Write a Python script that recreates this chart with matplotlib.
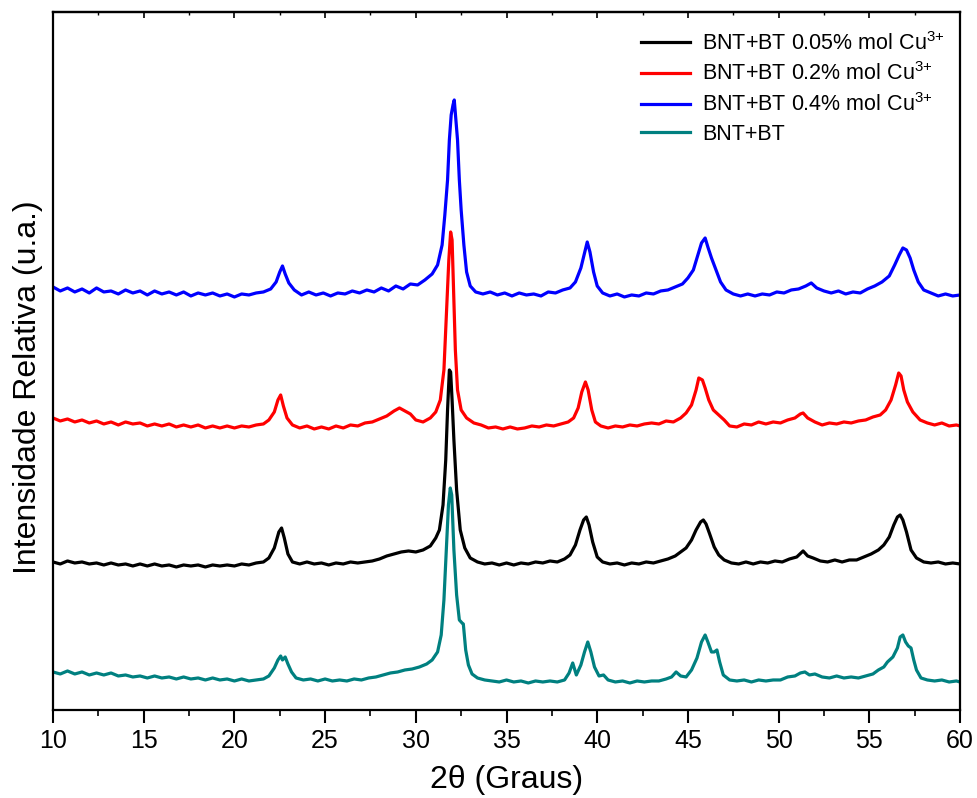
import numpy as np
import matplotlib
matplotlib.use("Agg")
import matplotlib.pyplot as plt
from matplotlib.ticker import MultipleLocator

plt.rcParams['font.family'] = ['Liberation Sans', 'DejaVu Sans']
plt.rcParams['mathtext.fontset'] = 'custom'
plt.rcParams['mathtext.rm'] = 'Liberation Sans'
plt.rcParams['mathtext.default'] = 'regular'

# XRD patterns, already stacked (u.a.)
tt_cu005 = [10.0, 10.4, 10.8, 11.2, 11.6, 12.0, 12.4, 12.8, 13.2, 13.6, 14.0, 14.4, 14.8, 15.2, 15.6, 16.0, 16.4, 16.8,
            17.2, 17.6, 18.0, 18.4, 18.8, 19.2, 19.6, 20.0, 20.4, 20.8, 21.2, 21.6, 21.9, 22.2, 22.45, 22.6, 22.75, 22.95,
            23.2, 23.6, 24.0, 24.4, 24.8, 25.2, 25.6, 26.0, 26.4, 26.8, 27.2, 27.6, 28.0, 28.4, 28.8, 29.2, 29.6, 30.0,
            30.4, 30.8, 31.1, 31.3, 31.5, 31.65, 31.75, 31.85, 31.92, 32.0, 32.1, 32.25, 32.45, 32.7, 33.0, 33.4, 33.8,
            34.2, 34.6, 35.0, 35.4, 35.8, 36.2, 36.6, 37.0, 37.4, 37.8, 38.2, 38.5, 38.8, 39.05, 39.25, 39.4, 39.55,
            39.75, 40.0, 40.3, 40.7, 41.1, 41.5, 41.9, 42.3, 42.7, 43.1, 43.5, 43.9, 44.3, 44.6, 44.9, 45.2, 45.45, 45.7,
            45.85, 46.0, 46.2, 46.45, 46.7, 47.0, 47.4, 47.8, 48.2, 48.6, 49.0, 49.4, 49.8, 50.2, 50.6, 51.0, 51.35,
            51.6, 51.9, 52.3, 52.7, 53.1, 53.5, 53.9, 54.3, 54.7, 55.1, 55.5, 55.8, 56.1, 56.35, 56.55, 56.7, 56.85,
            57.05, 57.3, 57.6, 58.0, 58.4, 58.8, 59.2, 59.6, 60.0]
I_cu005 = [148, 146, 149, 147, 148, 146, 147, 145, 147, 145, 146, 144, 146, 144, 146, 144, 145, 143,
           145, 144, 145, 143, 145, 144, 145, 144, 146, 145, 147, 148, 152, 162, 178, 182, 172, 156,
           148, 146, 148, 146, 147, 145, 147, 146, 148, 147, 148, 149, 151, 154, 156, 158, 159, 158,
           160, 164, 172, 180, 205, 250, 300, 340, 338, 310, 270, 220, 180, 162, 152, 148, 146,
           147, 145, 147, 145, 147, 146, 148, 147, 149, 148, 151, 155, 165, 180, 190, 193, 185,
           168, 153, 148, 146, 147, 145, 147, 146, 148, 147, 149, 151, 154, 158, 162, 170, 180, 188,
           190, 186, 176, 163, 155, 150, 147, 146, 148, 146, 148, 147, 149, 148, 151, 153, 159,
           154, 152, 149, 148, 150, 148, 150, 150, 153, 156, 160, 165, 173, 185, 193, 195, 190,
           178, 160, 152, 148, 147, 148, 146, 147, 146]

tt_cu02 = [10.0, 10.4, 10.8, 11.2, 11.6, 12.0, 12.4, 12.8, 13.2, 13.6, 14.0, 14.4, 14.8, 15.2, 15.6, 16.0, 16.4, 16.8,
           17.2, 17.6, 18.0, 18.4, 18.8, 19.2, 19.6, 20.0, 20.4, 20.8, 21.2, 21.6, 21.9, 22.2, 22.4, 22.55, 22.7, 22.9,
           23.2, 23.6, 24.0, 24.4, 24.8, 25.2, 25.6, 26.0, 26.4, 26.8, 27.2, 27.6, 28.0, 28.4, 28.8, 29.1, 29.4, 29.7,
           30.0, 30.4, 30.8, 31.1, 31.35, 31.55, 31.7, 31.82, 31.92, 32.0, 32.08, 32.18, 32.3, 32.5, 32.8, 33.2, 33.6,
           34.0, 34.4, 34.8, 35.2, 35.6, 36.0, 36.4, 36.8, 37.2, 37.6, 38.0, 38.4, 38.7, 38.95, 39.15, 39.35, 39.5,
           39.7, 39.9, 40.2, 40.6, 41.0, 41.4, 41.8, 42.2, 42.6, 43.0, 43.4, 43.8, 44.2, 44.6, 44.9, 45.2, 45.45, 45.6,
           45.8, 45.95, 46.15, 46.4, 46.7, 47.0, 47.3, 47.7, 48.1, 48.5, 48.9, 49.3, 49.7, 50.1, 50.5, 50.9, 51.2,
           51.35, 51.6, 52.0, 52.4, 52.8, 53.2, 53.6, 54.0, 54.4, 54.8, 55.2, 55.6, 55.9, 56.2, 56.45, 56.62, 56.75,
           56.9, 57.1, 57.4, 57.8, 58.2, 58.6, 59.0, 59.4, 59.8, 60.0]
I_cu02 = [292, 289, 291, 288, 290, 287, 289, 286, 288, 285, 288, 286, 287, 284, 286, 284, 286, 283,
          285, 283, 285, 282, 284, 282, 284, 282, 284, 283, 285, 286, 290, 298, 310, 315, 304, 292,
          285, 282, 284, 281, 283, 281, 284, 282, 285, 284, 287, 288, 291, 294, 299, 302, 299, 296,
          290, 288, 292, 298, 310, 340, 400, 450, 478, 470, 420, 360, 320, 300, 292, 287, 285,
          282, 283, 281, 283, 281, 282, 284, 283, 285, 284, 286, 288, 292, 302, 318, 328, 320,
          300, 288, 284, 282, 284, 283, 285, 284, 286, 287, 286, 289, 288, 292, 297, 305, 320, 332,
          330, 322, 310, 300, 295, 290, 284, 283, 286, 285, 288, 286, 288, 287, 290, 292, 296,
          297, 292, 288, 285, 287, 286, 288, 287, 289, 290, 293, 295, 300, 310, 325, 337, 334,
          320, 308, 298, 290, 287, 285, 287, 284, 285, 284]

tt_cu04 = [10.0, 10.4, 10.8, 11.2, 11.6, 12.0, 12.4, 12.8, 13.2, 13.6, 14.0, 14.4, 14.8, 15.2, 15.6, 16.0, 16.4, 16.8,
           17.2, 17.6, 18.0, 18.4, 18.8, 19.2, 19.6, 20.0, 20.4, 20.8, 21.2, 21.6, 22.0, 22.3, 22.5, 22.65, 22.8, 23.0,
           23.3, 23.7, 24.1, 24.5, 24.9, 25.3, 25.7, 26.1, 26.5, 26.9, 27.3, 27.7, 28.1, 28.5, 28.9, 29.3, 29.7, 30.1,
           30.5, 30.9, 31.2, 31.45, 31.6, 31.75, 31.85, 31.95, 32.05, 32.12, 32.2, 32.3, 32.4, 32.5, 32.65, 32.8, 33.0,
           33.3, 33.7, 34.1, 34.5, 34.9, 35.3, 35.7, 36.1, 36.5, 36.9, 37.3, 37.7, 38.1, 38.5, 38.8, 39.1, 39.3, 39.45,
           39.6, 39.8, 40.0, 40.3, 40.7, 41.1, 41.5, 41.9, 42.3, 42.7, 43.1, 43.5, 43.9, 44.3, 44.7, 45.0, 45.3, 45.55,
           45.75, 45.95, 46.1, 46.3, 46.55, 46.8, 47.1, 47.5, 47.9, 48.3, 48.7, 49.1, 49.5, 49.9, 50.3, 50.7, 51.1,
           51.5, 51.8, 52.1, 52.5, 52.9, 53.3, 53.7, 54.1, 54.5, 54.9, 55.3, 55.7, 56.1, 56.4, 56.65, 56.85, 57.05,
           57.25, 57.45, 57.7, 58.0, 58.4, 58.8, 59.2, 59.6, 60.0]
I_cu04 = [423, 419, 422, 418, 421, 417, 422, 418, 419, 416, 420, 417, 419, 415, 419, 416, 418, 415,
          418, 414, 417, 415, 417, 414, 416, 413, 416, 415, 417, 418, 421, 428, 438, 444, 436, 427,
          420, 415, 418, 415, 417, 414, 417, 416, 419, 417, 420, 418, 422, 419, 424, 421, 426, 425,
          430, 436, 445, 465, 495, 530, 570, 595, 605, 610, 592, 570, 530, 500, 465, 438, 424,
          418, 416, 418, 415, 417, 414, 417, 415, 416, 414, 418, 417, 420, 422, 428, 442, 457, 468,
          458, 438, 424, 417, 414, 416, 413, 415, 414, 417, 416, 419, 420, 423, 426, 432, 440, 455,
          467, 472, 463, 452, 440, 428, 420, 416, 414, 416, 414, 416, 415, 418, 417, 420, 421,
          424, 427, 422, 419, 417, 419, 416, 418, 417, 421, 424, 428, 434, 445, 455, 462, 460,
          452, 440, 428, 420, 417, 414, 416, 414, 415]

tt_pure = [10.0, 10.4, 10.8, 11.2, 11.6, 12.0, 12.4, 12.8, 13.2, 13.6, 14.0, 14.4, 14.8, 15.2, 15.6, 16.0, 16.4, 16.8,
           17.2, 17.6, 18.0, 18.4, 18.8, 19.2, 19.6, 20.0, 20.4, 20.8, 21.2, 21.6, 21.9, 22.2, 22.4, 22.55, 22.65, 22.8,
           22.95, 23.15, 23.4, 23.8, 24.2, 24.6, 25.0, 25.4, 25.8, 26.2, 26.6, 27.0, 27.4, 27.8, 28.2, 28.6, 29.0, 29.4,
           29.8, 30.2, 30.6, 30.9, 31.2, 31.4, 31.55, 31.68, 31.8, 31.9, 31.98, 32.1, 32.25, 32.4, 32.55, 32.62, 32.75,
           32.9, 33.1, 33.4, 33.8, 34.2, 34.6, 35.0, 35.4, 35.8, 36.2, 36.6, 37.0, 37.4, 37.8, 38.2, 38.45, 38.65,
           38.85, 39.1, 39.3, 39.48, 39.65, 39.85, 40.1, 40.35, 40.6, 41.0, 41.4, 41.8, 42.2, 42.6, 43.0, 43.4, 43.8,
           44.1, 44.35, 44.6, 44.9, 45.2, 45.5, 45.75, 45.95, 46.1, 46.3, 46.45, 46.6, 46.75, 46.95, 47.3, 47.7, 48.1,
           48.5, 48.9, 49.3, 49.7, 50.1, 50.5, 50.9, 51.2, 51.45, 51.7, 52.0, 52.4, 52.8, 53.2, 53.6, 54.0, 54.4, 54.8,
           55.2, 55.5, 55.8, 56.0, 56.3, 56.55, 56.7, 56.85, 57.0, 57.15, 57.3, 57.45, 57.6, 57.85, 58.2, 58.6, 59.0,
           59.4, 59.8, 60.0]
I_pure = [38, 36, 39, 36, 38, 35, 37, 35, 37, 34, 35, 33, 34, 32, 34, 32, 33, 31,
          33, 31, 32, 30, 32, 30, 31, 29, 31, 29, 30, 31, 34, 42, 50, 54, 50, 53,
          46, 38, 32, 30, 31, 29, 31, 29, 30, 29, 31, 30, 32, 33, 35, 37, 38, 40,
          41, 43, 46, 50, 58, 75, 110, 160, 205, 222, 215, 160, 115, 90, 87, 86, 60,
          45, 36, 32, 30, 29, 28, 30, 28, 29, 27, 29, 28, 29, 28, 30, 37, 47,
          35, 45, 58, 68, 58, 43, 34, 35, 30, 28, 29, 27, 29, 28, 29, 29, 31,
          33, 38, 34, 33, 40, 52, 68, 75, 68, 58, 58, 60, 48, 35, 30, 29, 30,
          28, 30, 29, 30, 30, 33, 34, 37, 38, 35, 36, 33, 32, 34, 32, 33, 32, 34,
          36, 40, 43, 48, 53, 62, 73, 75, 68, 64, 62, 50, 40, 32, 30, 29, 30,
          28, 29, 28]

labels = ['BNT+BT 0.05% mol Cu$^{3{+}}$', 'BNT+BT 0.2% mol Cu$^{3{+}}$',
          'BNT+BT 0.4% mol Cu$^{3{+}}$', 'BNT+BT']
colors = ['black', '#ff0000', '#0000ff', '#008080']

fig = plt.figure(figsize=(9.78, 7.98), dpi=100)
ax = fig.add_axes([0.0542, 0.1103, 0.9274, 0.8747])

series = [(tt_cu005, I_cu005), (tt_cu02, I_cu02), (tt_cu04, I_cu04), (tt_pure, I_pure)]
for (tt, I), lab, c in zip(series, labels, colors):
    ax.plot(tt, I, color=c, lw=2.3, label=lab)

ax.set_xlim(10, 60)
ax.set_ylim(0, 698)
ax.xaxis.set_major_locator(MultipleLocator(5))
ax.xaxis.set_minor_locator(MultipleLocator(2.5))
ax.set_yticks([])
ax.tick_params(axis='x', which='major', direction='out', length=9, width=1.5,
               labelsize=18, pad=5)
ax.tick_params(axis='x', which='minor', direction='out', length=4, width=1.2)
for s in ax.spines.values():
    s.set_linewidth(1.6)

# small inward ticks along the top edge
top = ax.secondary_xaxis('top')
top.xaxis.set_major_locator(MultipleLocator(5))
top.xaxis.set_minor_locator(MultipleLocator(2.5))
top.tick_params(which='major', direction='in', length=4, width=1.2, labeltop=False)
top.tick_params(which='minor', direction='in', length=2.5, width=1.0)
top.spines['top'].set_linewidth(1.6)

ax.set_xlabel('2θ (Graus)', fontsize=23, labelpad=8)
ax.set_ylabel('Intensidade Relativa (u.a.)', fontsize=23)
ax.yaxis.set_label_coords(-0.011, 0.462)

ax.legend(loc='upper right', bbox_to_anchor=(1.0, 0.993), frameon=False, fontsize=15.5,
          handlelength=2.3, labelspacing=0.36, handletextpad=0.55, borderaxespad=0.3)

fig.savefig('out.png', dpi=100)
